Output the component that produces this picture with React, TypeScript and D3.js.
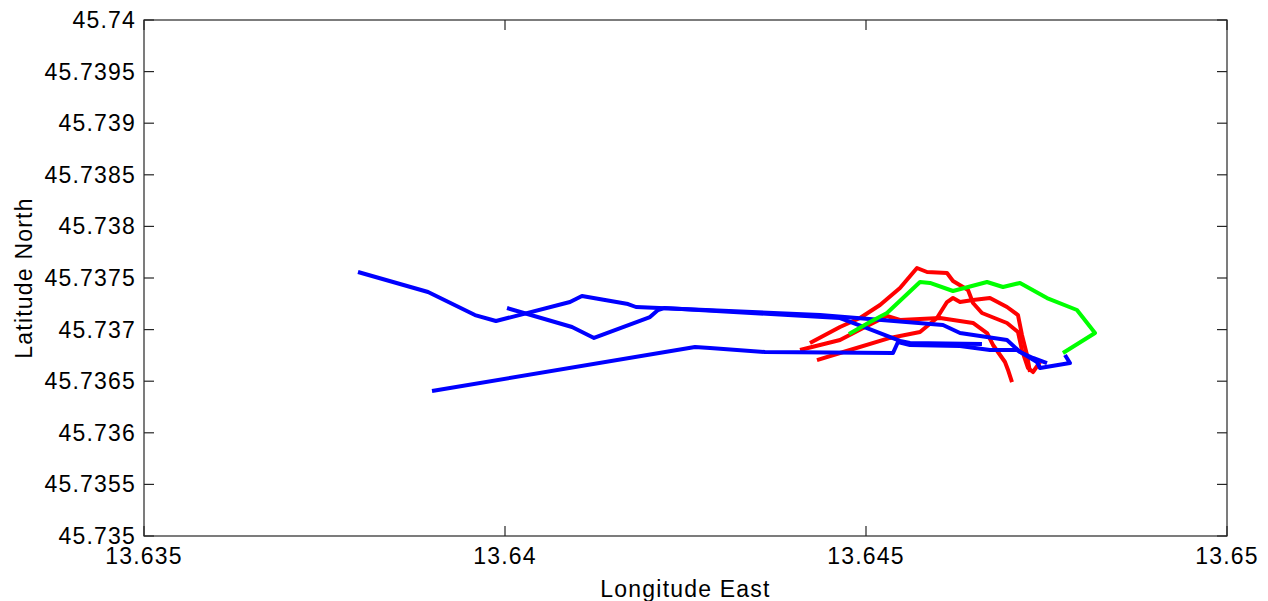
import React from "react";
import * as d3 from "d3";

type P = [number, number];

const xTicks = [13.635, 13.64, 13.645, 13.65];
const yTicks = [45.735, 45.7355, 45.736, 45.7365, 45.737, 45.7375, 45.738, 45.7385, 45.739, 45.7395, 45.74];

const blueA: P[] = [
  [13.637964, 45.737558], [13.638934, 45.737364], [13.639584, 45.737141], [13.639875, 45.737083],
  [13.6409, 45.737267], [13.641066, 45.737326], [13.641704, 45.737248], [13.641814, 45.737219],
  [13.644363, 45.737141], [13.644875, 45.737112], [13.646066, 45.737045], [13.646302, 45.736967],
  [13.646953, 45.736899], [13.647133, 45.736783], [13.647313, 45.736725], [13.647507, 45.736676],
];
const blueB: P[] = [
  [13.640028, 45.737209], [13.640928, 45.737025], [13.641233, 45.736919], [13.642008, 45.737122],
  [13.642119, 45.73719], [13.642202, 45.737209], [13.64464, 45.737112], [13.645014, 45.737015],
  [13.645471, 45.73689], [13.645609, 45.73687], [13.646606, 45.73686],
];
const blueC: P[] = [
  [13.638989, 45.736405], [13.642632, 45.736831], [13.642839, 45.736822], [13.643601, 45.736783],
  [13.645374, 45.736773], [13.645443, 45.73688], [13.645609, 45.736851], [13.646302, 45.736841],
  [13.646717, 45.736802], [13.647091, 45.736802], [13.647368, 45.736686], [13.64741, 45.736628],
  [13.647825, 45.736676], [13.647756, 45.736754],
];
const green: P[] = [
  [13.644764, 45.736957], [13.645055, 45.737074], [13.645291, 45.737161], [13.645748, 45.737461],
  [13.645886, 45.737452], [13.646205, 45.737374], [13.646676, 45.737461], [13.646897, 45.737413],
  [13.647133, 45.737452], [13.647507, 45.737306], [13.647922, 45.73719], [13.648172, 45.736967],
  [13.647728, 45.736773],
];
const red1: P[] = [
  [13.644224, 45.73687], [13.64464, 45.737025], [13.644917, 45.737112], [13.645194, 45.737238],
  [13.645471, 45.737403], [13.645706, 45.737597], [13.645845, 45.737558], [13.646122, 45.737548],
  [13.646205, 45.737471], [13.646413, 45.737384], [13.646482, 45.737258], [13.646606, 45.737161],
  [13.646953, 45.737064], [13.647105, 45.736977], [13.64716, 45.736802], [13.647244, 45.736628],
  [13.647313, 45.736589], [13.64741, 45.736686],
];
const red2: P[] = [
  [13.644086, 45.736802], [13.64464, 45.736899], [13.645014, 45.737035], [13.645291, 45.737132],
  [13.645471, 45.737093], [13.646025, 45.737112], [13.646482, 45.737064], [13.646676, 45.736967],
  [13.646759, 45.736851], [13.646925, 45.736686], [13.646967, 45.736609], [13.647022, 45.736492],
];
const red3: P[] = [
  [13.644321, 45.736705], [13.64464, 45.736773], [13.645332, 45.736919], [13.645748, 45.736977],
  [13.645983, 45.737112], [13.646122, 45.737267], [13.646205, 45.737306], [13.646302, 45.737267],
  [13.646482, 45.737287], [13.646717, 45.737306], [13.646953, 45.737219], [13.647105, 45.737141],
  [13.64716, 45.736948], [13.64723, 45.736754], [13.647271, 45.736589],
];

const W = 1268;
const H = 601;
const left = 144, right = 1227, top = 20, bottom = 536;

export default function App() {
  const x = d3.scaleLinear().domain([13.635, 13.65]).range([left, right]);
  const y = d3.scaleLinear().domain([45.735, 45.74]).range([bottom, top]);
  const line = d3.line<P>().x((d) => x(d[0])).y((d) => y(d[1]));
  const font = "Arial, 'Liberation Sans', sans-serif";
  const axisColor = "#262626";
  const tl = 10;
  const fs = 23;
  const ls = 1.2;
  const series: { d: P[]; c: string }[] = [
    { d: red1, c: "#ff0000" },
    { d: red2, c: "#ff0000" },
    { d: red3, c: "#ff0000" },
    { d: blueA, c: "#0000ff" },
    { d: blueB, c: "#0000ff" },
    { d: blueC, c: "#0000ff" },
    { d: green, c: "#00ff00" },
  ];
  return (
    <svg width={W} height={H} style={{ position: "absolute", left: 0, top: 0, background: "#fff" }}>
      <rect x={0} y={0} width={W} height={H} fill="#fff" />
      <defs>
        <clipPath id="clip">
          <rect x={left} y={top} width={right - left} height={bottom - top} />
        </clipPath>
      </defs>
      <g clipPath="url(#clip)">
        {series.map((s, i) => (
          <path key={i} d={line(s.d) || ""} fill="none" stroke={s.c} strokeWidth={4} strokeLinejoin="round" strokeLinecap="butt" />
        ))}
      </g>
      <rect x={left} y={top} width={right - left} height={bottom - top} fill="none" stroke={axisColor} strokeWidth={1.2} />
      {xTicks.map((t) => (
        <g key={"x" + t}>
          <line x1={x(t)} x2={x(t)} y1={bottom} y2={bottom - tl} stroke={axisColor} strokeWidth={1.2} />
          <line x1={x(t)} x2={x(t)} y1={top} y2={top + tl} stroke={axisColor} strokeWidth={1.2} />
          <text x={x(t)} y={564} textAnchor="middle" fontFamily={font} fontSize={fs} letterSpacing={ls} fill="#000">
            {String(t)}
          </text>
        </g>
      ))}
      {yTicks.map((t) => (
        <g key={"y" + t}>
          <line x1={left} x2={left + tl} y1={y(t)} y2={y(t)} stroke={axisColor} strokeWidth={1.2} />
          <line x1={right} x2={right - tl} y1={y(t)} y2={y(t)} stroke={axisColor} strokeWidth={1.2} />
          <text x={136} y={y(t) + 8} textAnchor="end" fontFamily={font} fontSize={fs} letterSpacing={ls} fill="#000">
            {String(t)}
          </text>
        </g>
      ))}
      <text x={(left + right) / 2} y={597} textAnchor="middle" fontFamily={font} fontSize={fs} letterSpacing={ls} fill="#000">
        Longitude East
      </text>
      <text
        transform={`translate(32,${(top + bottom) / 2}) rotate(-90)`}
        textAnchor="middle"
        fontFamily={font}
        fontSize={fs}
        letterSpacing={ls}
        fill="#000"
      >
        Latitude North
      </text>
    </svg>
  );
}
